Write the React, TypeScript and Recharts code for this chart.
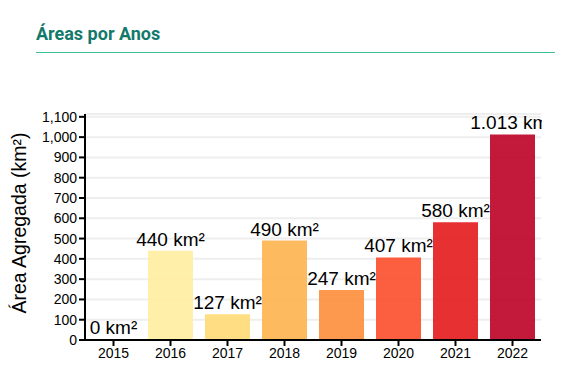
import React from 'react';
import { BarChart, Bar, XAxis, YAxis, CartesianGrid, LabelList, Cell } from 'recharts';

const years = ['2015', '2016', '2017', '2018', '2019', '2020', '2021', '2022'];
const areas = [0, 440, 127, 490, 247, 407, 580, 1013];
const colors = ['#ffffcc', '#ffeda0', '#fed976', '#feb24c', '#fd8d3c', '#fc4e2a', '#e31a1c', '#bd0026'];
const yTicks = [0, 100, 200, 300, 400, 500, 600, 700, 800, 900, 1000, 1100];

const chartData = years.map((year, i) => ({ year, area: areas[i] }));

const formatKm = (v: any) => `${Number(v).toLocaleString('de-DE')} km²`;
const formatTick = (v: any) => Number(v).toLocaleString('en-US');

// single-line value label above each bar (default label wraps to bar width)
const ValueLabel = (props: any) => {
  const { x, y, width, value } = props;
  return (
    <text x={Number(x) + Number(width) / 2} y={Number(y) - 5} textAnchor="middle" fill="#000" fontSize={19}>
      {formatKm(value)}
    </text>
  );
};

export default function App() {
  return (
    <div style={{ position: 'relative', width: 578, height: 382, margin: -8, background: '#fff' }}>
      {/* Title */}
      <div
        style={{
          position: 'absolute',
          left: 36,
          top: 23,
          width: 519,
          paddingBottom: 7,
          borderBottom: '1.5px solid #3dbf98',
          fontFamily: 'Roboto, sans-serif',
          fontWeight: 700,
          fontSize: 18,
          color: '#13796b',
          lineHeight: '22px',
        }}
      >
        Áreas por Anos
      </div>

      <div style={{ position: 'absolute', left: 0, top: 0 }}>
        <BarChart
          width={542}
          height={382}
          data={chartData}
          margin={{ top: 114, right: 1, left: 0, bottom: 0 }}
          style={{ fontFamily: '"Liberation Sans", Arial, sans-serif' }}
        >
          <CartesianGrid vertical={false} stroke="#eeeeee" strokeWidth={2} />
          <XAxis
            dataKey="year"
            height={42}
            axisLine={{ stroke: '#000', strokeWidth: 2 }}
            tickLine={{ stroke: '#000', strokeWidth: 2 }}
            tickSize={6}
            tick={{ fill: '#000', fontSize: 14 }}
          />
          <YAxis
            width={85}
            domain={[0, 1114]}
            ticks={yTicks}
            interval={0}
            allowDataOverflow
            tickFormatter={formatTick}
            axisLine={{ stroke: '#000', strokeWidth: 2 }}
            tickLine={{ stroke: '#000', strokeWidth: 2 }}
            tickSize={6}
            tick={{ fill: '#000', fontSize: 14 }}
            label={{
              value: 'Área Agregada (km²)',
              angle: -90,
              position: 'insideLeft',
              offset: 19,
              dy: -4,
              style: { textAnchor: 'middle', fontSize: 19.5, fill: '#000' },
            }}
          />
          <Bar dataKey="area" barSize={45} minPointSize={1} fillOpacity={0.9} isAnimationActive={false}>
            {chartData.map((d, i) => (
              <Cell key={d.year} fill={colors[i]} />
            ))}
            <LabelList dataKey="area" content={ValueLabel} />
          </Bar>
        </BarChart>
      </div>
    </div>
  );
}
